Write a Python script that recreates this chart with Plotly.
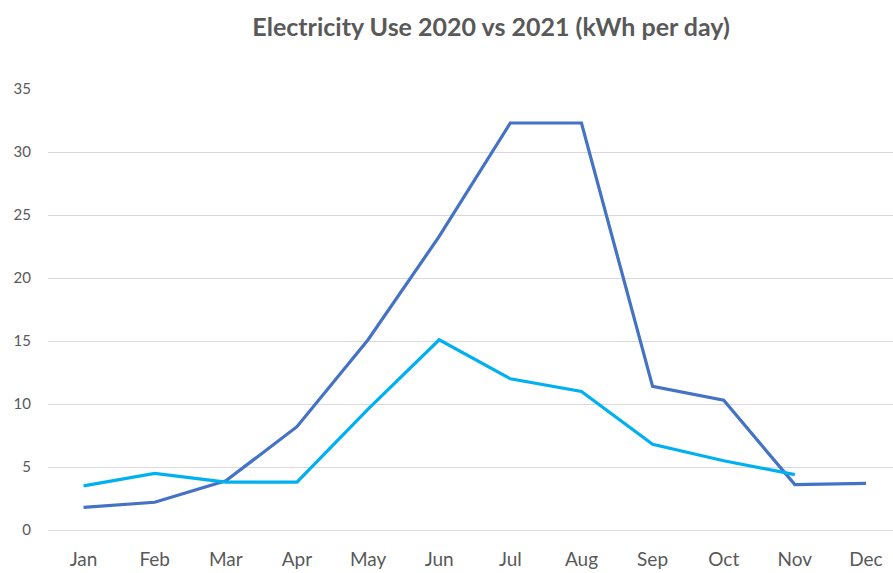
import plotly.graph_objects as go

months = ["Jan", "Feb", "Mar", "Apr", "May", "Jun", "Jul", "Aug", "Sep", "Oct", "Nov", "Dec"]
use_2020 = [1.8, 2.2, 3.9, 8.2, 15.1, 23.3, 32.3, 32.3, 11.4, 10.3, 3.6, 3.7]
use_2021 = [3.5, 4.5, 3.8, 3.8, 9.6, 15.1, 12.0, 11.0, 6.8, 5.5, 4.4]

fig = go.Figure()
fig.add_trace(go.Scatter(x=months, y=use_2020, mode="lines", name="2020",
                         line=dict(color="#4472C4", width=3.2)))
fig.add_trace(go.Scatter(x=months[:len(use_2021)], y=use_2021, mode="lines", name="2021",
                         line=dict(color="#00B0F0", width=3.2)))

fig.update_layout(
    width=893, height=573,
    paper_bgcolor="white", plot_bgcolor="white",
    margin=dict(l=48, r=0, t=89, b=43),
    showlegend=False,
    font=dict(family="Lato, Open Sans, sans-serif", color="#595959"),
    title=dict(text="<b>Electricity Use 2020 vs 2021 (kWh per day)</b>",
               x=0.55, xanchor="center", y=0.953, yanchor="middle",
               font=dict(size=25, color="#595959")),
    xaxis=dict(type="category", range=[-0.5, 11.38], showgrid=False,
               showline=False, ticks="", tickfont=dict(size=19, color="#595959"),
               ticklabelstandoff=16, fixedrange=True),
    yaxis=dict(range=[0, 35], dtick=5, showgrid=True, gridcolor="#D9D9D9",
               gridwidth=1, zeroline=True, zerolinecolor="#D9D9D9", zerolinewidth=1,
               showline=False, ticks="", tickfont=dict(size=15, color="#595959"),
               ticklabelstandoff=16),
)

fig.write_html("out.html")
